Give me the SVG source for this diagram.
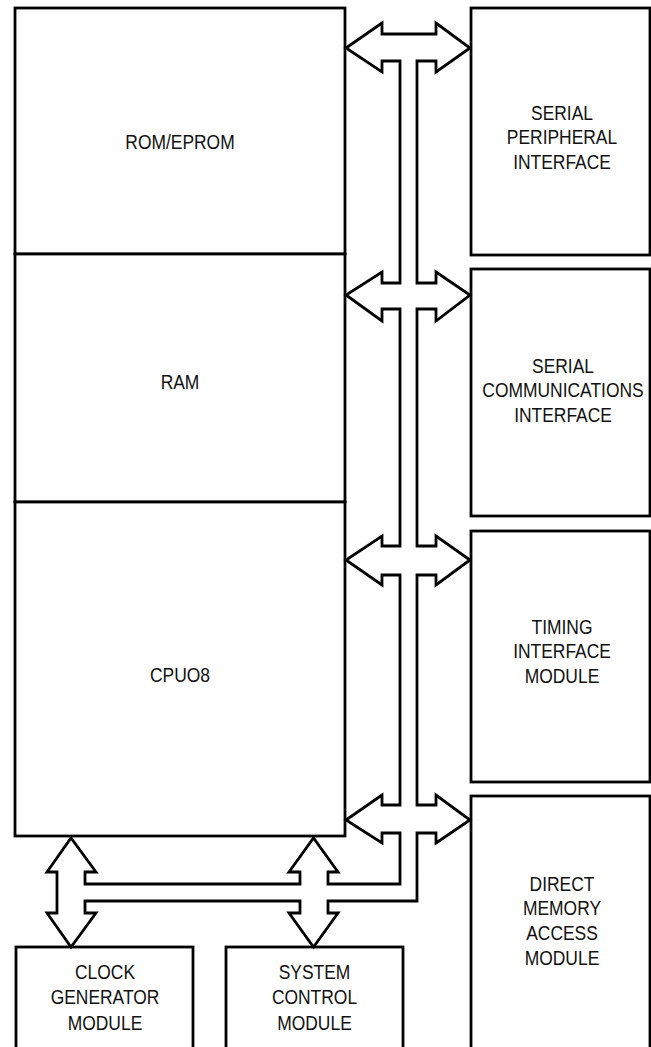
<svg xmlns="http://www.w3.org/2000/svg" width="651" height="1047" viewBox="0 0 651 1047">
<style>
.box{fill:#fff;stroke:#000;stroke-width:2.8}
.bus{fill:#fff;stroke:#000;stroke-width:2.8;stroke-linejoin:miter}
.lbl{font-family:"Liberation Sans",Arial,sans-serif;font-size:21px;fill:#111;text-anchor:middle}
</style>
<rect x="0" y="0" width="651" height="1047" fill="#fff"/>
<g id="rom">
<rect class="box" x="15" y="8" width="330" height="246"/>
<text class="lbl" transform="translate(180 148.5) scale(0.83 1)">ROM/EPROM</text>
</g>
<g id="ram">
<rect class="box" x="15" y="254" width="330" height="248"/>
<text class="lbl" transform="translate(180 389) scale(0.83 1)">RAM</text>
</g>
<g id="cpu">
<rect class="box" x="15" y="502" width="330" height="334"/>
<text class="lbl" transform="translate(180 682) scale(0.83 1)">CPUO8</text>
</g>
<g id="spi">
<rect class="box" x="471" y="8" width="179" height="247"/>
<text class="lbl" transform="translate(562 119.5) scale(0.83 1)"><tspan x="0">SERIAL</tspan><tspan x="0" dy="25">PERIPHERAL</tspan><tspan x="0" dy="25">INTERFACE</tspan></text>
</g>
<g id="sci">
<rect class="box" x="471" y="269" width="179" height="247"/>
<text class="lbl" transform="translate(563 372.5) scale(0.83 1)"><tspan x="0">SERIAL</tspan><tspan x="0" dy="25">COMMUNICATIONS</tspan><tspan x="0" dy="25">INTERFACE</tspan></text>
</g>
<g id="tim">
<rect class="box" x="471" y="531" width="179" height="251"/>
<text class="lbl" transform="translate(562 633.5) scale(0.83 1)"><tspan x="0">TIMING</tspan><tspan x="0" dy="25">INTERFACE</tspan><tspan x="0" dy="25">MODULE</tspan></text>
</g>
<g id="dma">
<rect class="box" x="471" y="796" width="179" height="262"/>
<text class="lbl" transform="translate(562 890.5) scale(0.83 1)"><tspan x="0">DIRECT</tspan><tspan x="0" dy="25">MEMORY</tspan><tspan x="0" dy="25">ACCESS</tspan><tspan x="0" dy="25">MODULE</tspan></text>
</g>
<g id="clock">
<rect class="box" x="16" y="947" width="177" height="112"/>
<text class="lbl" transform="translate(105 979) scale(0.83 1)"><tspan x="0">CLOCK</tspan><tspan x="0" dy="25.5">GENERATOR</tspan><tspan x="0" dy="25.5">MODULE</tspan></text>
</g>
<g id="sysctl">
<rect class="box" x="226" y="947" width="177" height="112"/>
<text class="lbl" transform="translate(314.5 979) scale(0.83 1)"><tspan x="0">SYSTEM</tspan><tspan x="0" dy="25.5">CONTROL</tspan><tspan x="0" dy="25.5">MODULE</tspan></text>
</g>
<g id="connectors">
<path class="bus" d="M346,48 L382,23 L382,34 L436,34 L436,23 L470,48 L436,72 L436,61 L417,61 L417,283 L436,283 L436,272 L470,295 L436,321 L436,309 L417,309 L417,546 L436,546 L436,536 L470,560 L436,585 L436,575 L417,575 L417,805 L436,805 L436,795 L470,820 L436,843 L436,833 L417,833 L417,901 L328,901 L328,913 L338,913 L313.5,947 L289,913 L300,913 L300,901 L85,901 L85,913 L96,913 L71,947 L47,913 L57,913 L57,872 L47,872 L71,838 L96,872 L85,872 L85,884 L300,884 L300,872 L289,872 L313.5,838 L338,872 L328,872 L328,884 L400,884 L400,833 L382,833 L382,843 L346,820 L382,795 L382,805 L400,805 L400,575 L382,575 L382,585 L346,560 L382,536 L382,546 L400,546 L400,309 L382,309 L382,321 L346,295 L382,272 L382,283 L400,283 L400,61 L382,61 L382,72 Z"/>
</g>
</svg>
